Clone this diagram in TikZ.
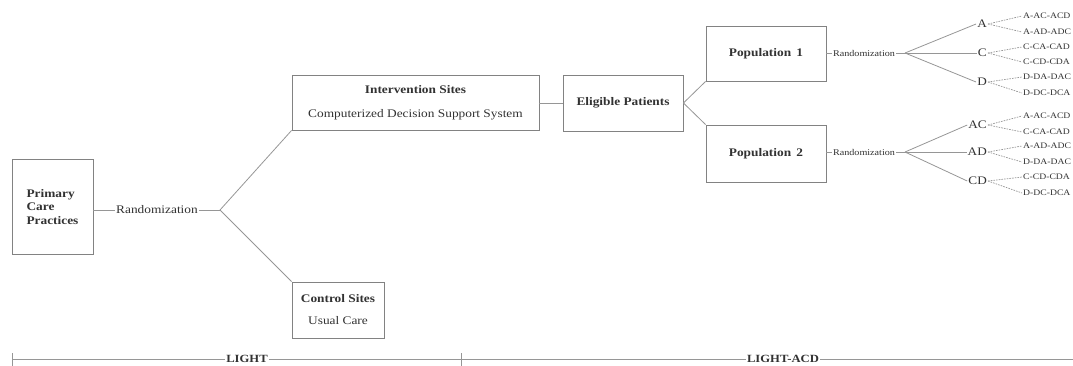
\documentclass[tikz,border=0pt]{standalone}
\usepackage{fontspec}
\setmainfont{Liberation Serif}[FakeStretch=1.15]
\usetikzlibrary{positioning,calc}
\definecolor{linegray}{RGB}{150,150,150}
\definecolor{boxgray}{RGB}{130,130,130}
\definecolor{inkgray}{RGB}{50,50,50}

\tikzset{
  site/.style={draw=boxgray, line width=0.9pt, text=inkgray, inner sep=2pt},
  link/.style={draw=linegray, line width=0.8pt},
  arm/.style={draw=linegray, line width=0.7pt, dash pattern=on 1.6pt off 1.1pt},
  randtext/.style={text=inkgray, inner sep=1pt, fill=white},
  armlabel/.style={text=inkgray, inner sep=1pt, font=\fontsize{11.5}{13}\selectfont},
  leaf/.style={text=inkgray, inner sep=1pt, font=\fontsize{8.4}{10}\selectfont}
}

\begin{document}
\begin{tikzpicture}[x=1pt, y=-1pt]
% canvas: 1 unit = 1 px of the 1073 x 365 layout, y runs downwards
\useasboundingbox (0,0) rectangle (1073,365);

% Sites and practices
\node[site, minimum width=81pt, minimum height=95pt, align=left,
      font=\bfseries\fontsize{11.6}{13.5}\selectfont] (pcp) at (52.5,207) {Primary\\Care\\Practices};
\node[site, minimum width=247pt, minimum height=55pt, align=center,
      font=\fontsize{11.6}{24}\selectfont] (iv) at (415.5,102.5)
      {\textbf{Intervention Sites}\\Computerized Decision Support System};
\node[site, minimum width=92pt, minimum height=56pt, align=center,
      font=\fontsize{11.6}{22}\selectfont] (ctrl) at (338,310)
      {\textbf{Control Sites}\\Usual Care};

% Randomization of practices
\node[randtext, font=\fontsize{11.6}{14}\selectfont] (rand1) at (157,210) {Randomization};
\coordinate (split1) at (220,210);
\draw[link] (rand1.west -| pcp.east) -- (rand1.west);
\draw[link] (rand1.east) -- (split1);
\draw[link] (split1) -- (iv.south west);
\draw[link] (split1) -- (ctrl.north west);

% Eligible patients and the two populations
\node[site, minimum width=120pt, minimum height=56pt,
      font=\bfseries\fontsize{11.6}{14}\selectfont] (elig) at (623,103) {Eligible Patients};
\node[site, minimum width=120pt, minimum height=55pt,
      font=\bfseries\fontsize{11.6}{14}\selectfont] (pop1) at (766,53.5) {Population\, 1};
\node[site, minimum width=120pt, minimum height=57pt,
      font=\bfseries\fontsize{11.6}{14}\selectfont] (pop2) at (766,153.5) {Population\, 2};
\draw[link] (iv.east |- elig.west) -- (elig.west);
\draw[link] (elig.east) -- (pop1.south west);
\draw[link] (elig.east) -- (pop2.north west);

% Second randomization
\node[randtext, font=\fontsize{8.8}{10}\selectfont] (rand2) at (864,53) {Randomization};
\node[randtext, font=\fontsize{8.8}{10}\selectfont] (rand3) at (864,152) {Randomization};
\coordinate (split2) at (905,53);
\coordinate (split3) at (905,152);
\draw[link] (pop1.east |- rand2.west) -- (rand2.west);
\draw[link] (rand2.east) -- (split2);
\draw[link] (pop2.east |- rand3.west) -- (rand3.west);
\draw[link] (rand3.east) -- (split3);

% First treatments
\foreach \n/\y in {A/24, C/53, D/82}{
  \node[armlabel, anchor=east] (p1\n) at (988,\y) {\n};
  \draw[link] (split2) -- (p1\n.west);
}
\foreach \n/\y in {AC/125, AD/152, CD/181}{
  \node[armlabel, anchor=east] (p2\n) at (988,\y) {\n};
  \draw[link] (split3) -- (p2\n.west);
}

% Sequences
\foreach \src/\txt/\y [count=\i] in {p1A/A-AC-ACD/16, p1A/A-AD-ADC/32,
    p1C/C-CA-CAD/47, p1C/C-CD-CDA/62, p1D/D-DA-DAC/77, p1D/D-DC-DCA/93}{
  \node[leaf, anchor=west] (sa\i) at (1022,\y) {\txt};
  \draw[arm] (\src.east) -- (sa\i.west);
}
\foreach \src/\txt/\y [count=\i] in {p2AC/A-AC-ACD/116, p2AC/C-CA-CAD/132,
    p2AD/A-AD-ADC/146, p2AD/D-DA-DAC/162, p2CD/C-CD-CDA/177, p2CD/D-DC-DCA/193}{
  \node[leaf, anchor=west] (sb\i) at (1022,\y) {\txt};
  \draw[arm] (\src.east) -- (sb\i.west);
}

% Study phases
\coordinate (phL) at (12,359);
\coordinate (phM) at (461,359);
\coordinate (phR) at (1073,359);
\node[randtext, font=\bfseries\fontsize{11}{13}\selectfont] (light) at (247,359) {LIGHT};
\node[randtext, font=\bfseries\fontsize{11}{13}\selectfont] (lightacd) at (783,359) {LIGHT-ACD};
\draw[link] (phL) -- (light.west);
\draw[link] (light.east) -- (phM);
\draw[link] (phM) -- (lightacd.west);
\draw[link] (lightacd.east) -- (phR);
\foreach \p in {phL,phM}
  \draw[link] ([yshift=6pt]\p) -- ([yshift=-7pt]\p);
\end{tikzpicture}
\end{document}
